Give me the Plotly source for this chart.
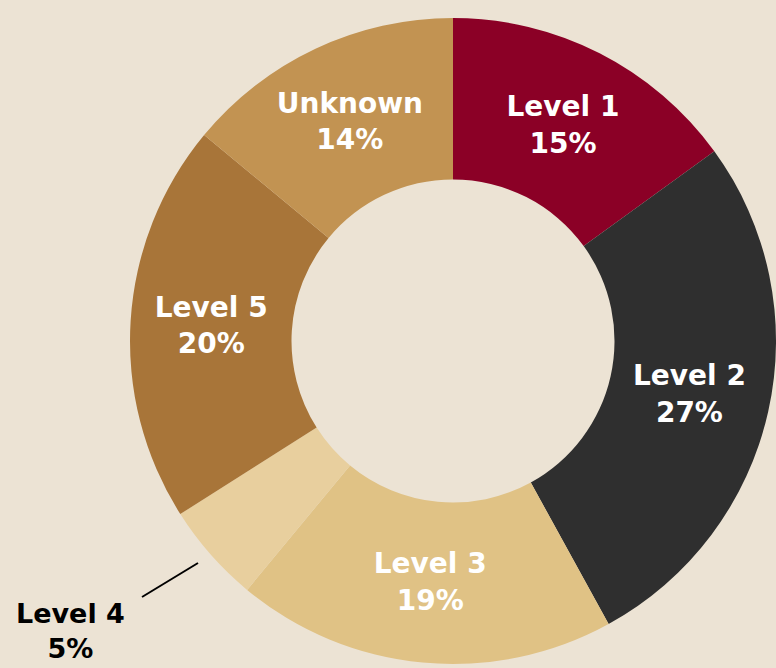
import plotly.graph_objects as go

labels = ["Level 1", "Level 2", "Level 3", "Level 4", "Level 5", "Unknown"]
values = [15, 27, 19, 5, 20, 14]
colors = ["#8B0026", "#2F2F2F", "#E0C285", "#E8CF9E", "#A87539", "#C29352"]
outside_label = "Level 4"

BG = "#ECE3D4"
FONT = "DejaVu Sans"

templates = ["" if l == outside_label else "%{label}<br>%{value}%" for l in labels]

fig = go.Figure(go.Pie(
    labels=labels,
    values=values,
    sort=False,
    direction="clockwise",
    rotation=0,
    hole=0.5,
    marker=dict(colors=colors, line=dict(width=0)),
    texttemplate=templates,
    textposition="inside",
    insidetextorientation="horizontal",
    textfont=dict(family=FONT, size=28, color="white", weight="bold"),
    domain=dict(x=[130 / 776, 1.0], y=[4 / 668, 650 / 668]),
    showlegend=False,
    hoverinfo="label+percent",
))

i4 = labels.index(outside_label)
fig.add_annotation(
    x=70 / 776, y=1 - 631 / 668, xref="paper", yref="paper",
    text=f"{labels[i4]}<br>{values[i4]}%",
    showarrow=False,
    font=dict(family=FONT, size=27, color="black", weight="bold"),
    xanchor="center", yanchor="middle", align="center",
)
fig.add_shape(
    type="line", xref="paper", yref="paper",
    x0=142 / 776, y0=1 - 597 / 668, x1=198 / 776, y1=1 - 563 / 668,
    line=dict(color="black", width=2),
)

fig.update_layout(
    width=776, height=668, autosize=False,
    margin=dict(l=0, r=0, t=0, b=0),
    paper_bgcolor=BG,
    plot_bgcolor=BG,
    uniformtext=dict(minsize=28, mode="show"),
)

post = (
    "document.body.style.margin='0';"
    "document.body.style.padding='0';"
    "document.body.style.overflow='hidden';"
    f"document.body.style.background='{BG}';"
)
fig.write_html("out.html", post_script=post, config={"displayModeBar": False})
